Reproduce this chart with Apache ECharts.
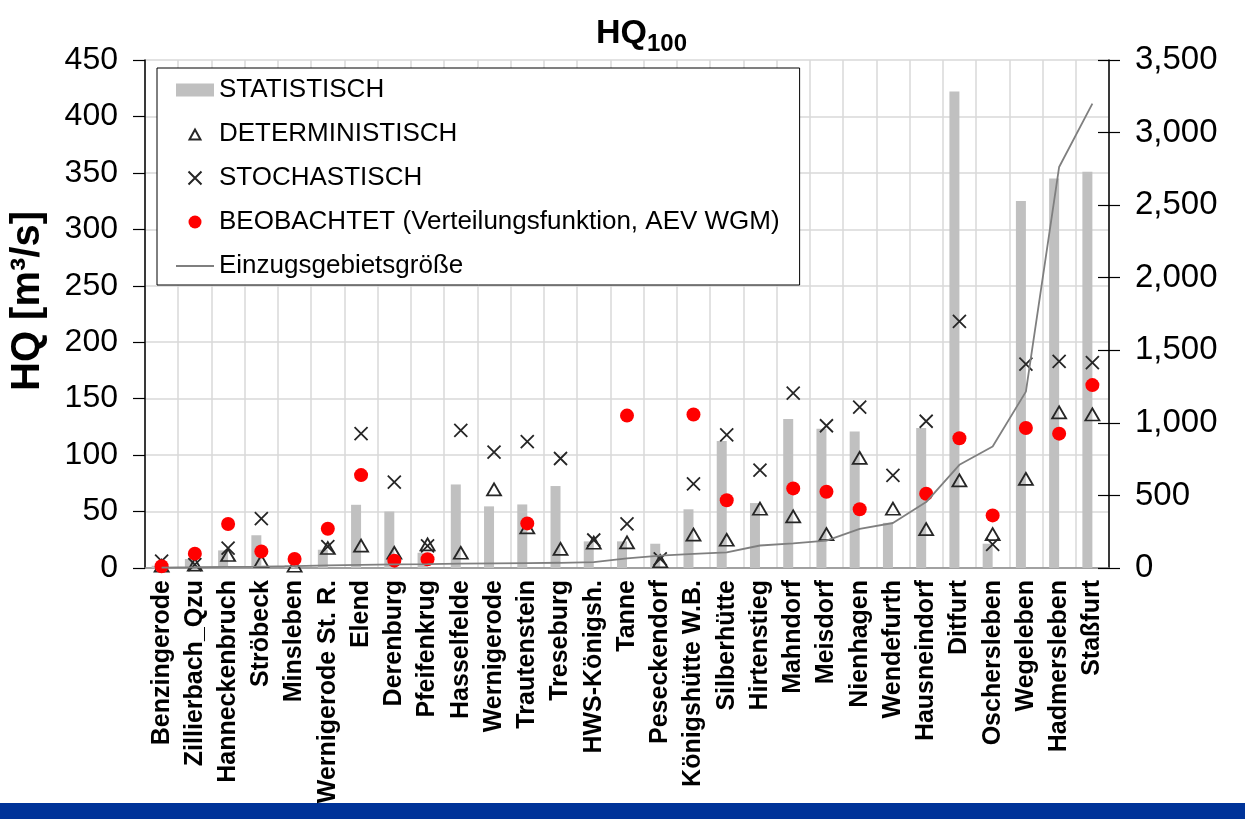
<!DOCTYPE html>
<html>
<head>
<meta charset="utf-8">
<title>HQ100</title>
<script src="https://cdn.jsdelivr.net/npm/echarts@6/dist/echarts.min.js"></script>
<style>
  html, body { margin: 0; padding: 0; background: #fff; }
  #chart { width: 1245px; height: 819px; }
</style>
</head>
<body>
<div id="chart"></div>
<script>
// Pegel / Stationen (sortiert nach Einzugsgebietsgröße)
const stations = [
  'Benzingerode', 'Zillierbach_Qzu', 'Hanneckenbruch', 'Ströbeck', 'Minsleben',
  'Wernigerode St. R.', 'Elend', 'Derenburg', 'Pfeifenkrug', 'Hasselfelde',
  'Wernigerode', 'Trautenstein', 'Treseburg', 'HWS-Königsh.', 'Tanne',
  'Peseckendorf', 'Königshütte W.B.', 'Silberhütte', 'Hirtenstieg', 'Mahndorf',
  'Meisdorf', 'Nienhagen', 'Wendefurth', 'Hausneindorf', 'Ditfurt',
  'Oschersleben', 'Wegeleben', 'Hadmersleben', 'Staßfurt'
];

// HQ100 in m³/s
const statistisch = [
  2, 8, 15.6, 29, 2.5, 16.2, 56, 50, 13.5, 74,
  54.6, 56.3, 72.6, 23.6, 23.6, 21.5, 52, 112.4, 57.5, 132,
  123.3, 121, 40, 124, 422, 21.5, 325, 345, 351
];
const deterministisch = [
  2, 3, 11.5, 6, 2, 17.7, 19.8, 13.5, 21, 13.5,
  69.6, 36, 17, 22.4, 22.7, 6, 29.5, 25, 52.5, 45.7,
  30, 97.5, 52.5, 34.5, 77.6, 30, 79, 137.8, 136
];
const stochastisch = [
  6, 3, 17.7, 43.7, null, 19, 119, 76, 19.5, 122,
  102.6, 112, 97, 24.8, 39, 8, 74.6, 118, 86.7, 155,
  126, 142.5, 82, 130, 218.4, 21, 180.5, 183, 182
];
const beobachtet = [
  1.5, 12.7, 39, 14.7, 8, 34.8, 82.3, 6.5, 7.7, null,
  null, 39.5, null, null, 135, null, 136, 60, null, 70.5,
  67.5, 52, null, 65.8, 115, 46.6, 124, 119, 162
];

// Einzugsgebietsgröße in km² (rechte Achse)
const einzugsgebiet = [
  3, 5, 8, 10, 13, 18, 22, 25, 27, 30,
  32, 34, 36, 40, 66, 85, 98, 107, 155, 169,
  188, 270, 310, 454, 711, 837, 1215, 2763, 3200
];

const hqMax = 450, hqStep = 50;
const areaMax = 3500, areaStep = 500;

const FONT = '"Liberation Sans", Arial, sans-serif';
const markerStroke = '#262626';

// legend icon: small triangle inside a 38x13 box (the moveTo points keep the box size)
const legendTriangle = 'path://M0,0M38,13M13.5,12L19,2L24.5,12Z';

const dom = document.getElementById('chart');
const myChart = echarts.init(dom, null, { renderer: 'canvas' });

const option = {
  animation: false,
  backgroundColor: '#ffffff',
  textStyle: { fontFamily: FONT, color: '#000' },
  title: {
    text: '{a|HQ}{b|100}',
    left: 596,
    top: 12,
    padding: 0,
    textStyle: {
      rich: {
        a: { fontFamily: FONT, fontSize: 34, fontWeight: 'bold', color: '#000', lineHeight: 44 },
        b: { fontFamily: FONT, fontSize: 24, fontWeight: 'bold', color: '#000', lineHeight: 22, verticalAlign: 'bottom' }
      }
    }
  },
  legend: {
    orient: 'vertical',
    left: 157,
    top: 68,
    padding: [9, 20, 6, 18],
    itemGap: 18,
    itemWidth: 38,
    itemHeight: 13,
    backgroundColor: '#ffffff',
    borderColor: '#000000',
    borderWidth: 1,
    borderRadius: 0,
    textStyle: { fontFamily: FONT, fontSize: 26, color: '#000' },
    data: [
      { name: 'STATISTISCH', icon: 'rect' },
      { name: 'DETERMINISTISCH', icon: legendTriangle },
      'STOCHASTISCH',
      { name: 'BEOBACHTET (Verteilungsfunktion, AEV WGM)', icon: 'circle' },
      { name: 'Einzugsgebietsgröße', itemStyle: { opacity: 0 } }
    ]
  },
  grid: {
    left: 145,
    right: 136,
    top: 60,
    bottom: 251,
    outerBoundsMode: 'none'
  },
  xAxis: {
    type: 'category',
    data: stations,
    boundaryGap: true,
    axisLine: { show: true, lineStyle: { color: '#8c8c8c', width: 1.5 } },
    axisTick: { show: false },
    axisLabel: {
      interval: 0,
      rotate: 90,
      margin: 12,
      fontFamily: FONT,
      fontSize: 25,
      fontWeight: 'bold',
      color: '#000'
    },
    splitLine: { show: true, interval: 0, lineStyle: { color: '#d9d9d9', width: 1.5 } }
  },
  yAxis: [
    {
      type: 'value',
      position: 'left',
      min: 0,
      max: hqMax,
      interval: hqStep,
      name: 'HQ [m³/s]',
      nameLocation: 'middle',
      nameGap: 97,
      nameTextStyle: {
        fontFamily: FONT,
        fontSize: 40,
        fontWeight: 'bold',
        color: '#000',
        padding: [0, 0, 0, 26]
      },
      axisLine: { show: true, lineStyle: { color: '#000', width: 1.5 } },
      axisTick: { show: true, length: 12, lineStyle: { color: '#000', width: 1.2 } },
      axisLabel: { margin: 27, fontFamily: FONT, fontSize: 32, color: '#000' },
      splitLine: { show: true, lineStyle: { color: '#d9d9d9', width: 1.5 } }
    },
    {
      type: 'value',
      position: 'right',
      min: 0,
      max: areaMax,
      interval: areaStep,
      axisLine: { show: true, lineStyle: { color: '#000', width: 1.5 } },
      axisTick: { show: true, length: 11, lineStyle: { color: '#000', width: 1.2 } },
      axisLabel: {
        margin: 26,
        fontFamily: FONT,
        fontSize: 33,
        color: '#000',
        formatter: v => v.toLocaleString('en-US')
      },
      splitLine: { show: false }
    },
    {
      // inner half of the crossing ticks on the right axis
      type: 'value',
      position: 'right',
      min: 0,
      max: areaMax,
      interval: areaStep,
      axisLine: { show: false },
      axisTick: { show: true, inside: true, length: 11, lineStyle: { color: '#000', width: 1.2 } },
      axisLabel: { show: false },
      splitLine: { show: false }
    }
  ],
  series: [
    {
      name: 'STATISTISCH',
      type: 'bar',
      data: statistisch,
      barWidth: 10,
      barGap: '0%',
      itemStyle: { color: '#c0c0c0' }
    },
    {
      name: '_leer',
      type: 'bar',
      data: stations.map(() => null),
      barWidth: 10,
      barGap: '0%',
      itemStyle: { color: 'transparent' }
    },
    {
      name: 'Einzugsgebietsgröße',
      type: 'line',
      yAxisIndex: 1,
      data: einzugsgebiet,
      symbol: 'none',
      lineStyle: { color: '#7f7f7f', width: 1.8 },
      itemStyle: { color: '#7f7f7f' }
    },
    {
      name: 'DETERMINISTISCH',
      type: 'scatter',
      data: deterministisch,
      symbol: 'triangle',
      symbolSize: [14, 12],
      itemStyle: { color: 'rgba(0,0,0,0)', borderColor: markerStroke, borderWidth: 1.8, opacity: 1 }
    },
    {
      name: 'STOCHASTISCH',
      type: 'scatter',
      data: stochastisch,
      symbol: 'path://M0,0L12,12M12,0L0,12',
      symbolSize: 13,
      itemStyle: { color: 'rgba(0,0,0,0)', borderColor: markerStroke, borderWidth: 1.8, opacity: 1 }
    },
    {
      name: 'BEOBACHTET (Verteilungsfunktion, AEV WGM)',
      type: 'scatter',
      data: beobachtet,
      symbol: 'circle',
      symbolSize: 14,
      itemStyle: { color: '#ff0000', opacity: 1 }
    }
  ],
  graphic: [
    {
      type: 'rect',
      left: 0,
      bottom: 0,
      shape: { width: 1245, height: 16 },
      style: { fill: '#003399' }
    }
  ]
};

myChart.setOption(option);
window.addEventListener('resize', myChart.resize);
</script>
</body>
</html>
